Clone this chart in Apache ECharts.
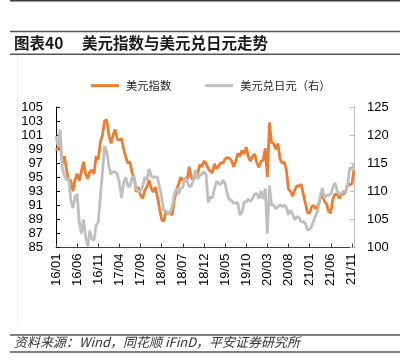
<!DOCTYPE html>
<html><head><meta charset="utf-8">
<script src="https://cdn.jsdelivr.net/npm/echarts@6/dist/echarts.min.js"></script>
<style>html,body{margin:0;padding:0;background:#fff}#c{width:405px;height:360px}</style>
</head><body><div id="c"></div>
<script>
// semi-monthly observations (1st and 16th of each month), 2016-01 .. 2021-11
var startYear = 2016, endYear = 2021, endMonth = 11;
var tickLabels = ['16/01','16/06','16/11','17/04','17/09','18/02','18/07','18/12','19/05','19/10','20/03','20/08','21/01','21/06','21/11'];
var seriesNames = ['美元指数', '美元兑日元（右）'];
var dxy = [
 98.8, 99.2, 99.5, 97.0, 98.0, 96.0, 94.6, 94.6, 93.0, 94.6, 95.5, 94.5, 95.8, 97.2, 95.5, 94.8, 95.8, 96.0, 95.5, 98.0, 97.5, 100.0, 101.0, 103.0,
 103.2, 101.0, 99.8, 101.0, 101.8, 100.4, 100.3, 100.5, 99.0, 97.9, 97.0, 97.2, 95.6, 94.9, 92.9, 93.6, 92.4, 92.0, 93.1, 93.6, 94.6, 93.5, 92.9, 93.6,
 92.2, 90.5, 89.0, 88.7, 90.2, 89.8, 90.0, 89.6, 91.8, 93.2, 94.0, 95.0, 94.6, 94.6, 94.6, 96.5, 95.0, 94.6, 95.3, 95.5, 96.8, 96.5, 97.3, 97.0,
 96.2, 95.9, 95.6, 96.9, 96.2, 96.6, 97.1, 97.0, 97.6, 97.8, 97.7, 97.4, 96.5, 97.2, 98.4, 98.0, 98.8, 98.3, 99.3, 97.9, 97.3, 98.0, 98.3, 97.1,
 96.4, 97.3, 97.4, 99.1, 95.0, 102.8, 99.9, 99.8, 99.0, 99.8, 97.6, 97.0, 97.2, 96.0, 93.3, 93.0, 92.3, 93.2, 93.8, 93.7, 94.0, 92.6, 91.3, 90.0,
 89.9, 90.8, 91.0, 90.5, 91.0, 91.8, 93.0, 91.6, 91.2, 90.1, 89.9, 91.9, 92.6, 92.6, 92.0, 92.6, 92.6, 92.9, 94.1, 93.9, 94.1, 96.0
];
var usdjpy = [
 119.8, 118.0, 121.0, 114.0, 112.8, 112.0, 112.3, 108.5, 107.0, 109.0, 109.5, 104.5, 102.5, 105.0, 102.0, 100.2, 103.0, 101.5, 101.3, 104.0, 104.5, 109.0, 113.5, 118.0,
 117.0, 114.5, 113.0, 113.5, 113.5, 113.0, 111.5, 108.8, 111.5, 112.5, 111.0, 110.8, 112.5, 112.5, 110.5, 110.0, 110.0, 110.8, 112.5, 112.0, 114.0, 112.8, 112.5, 112.5,
 112.5, 110.8, 109.0, 106.5, 106.5, 106.0, 106.3, 107.3, 109.5, 110.5, 109.5, 110.5, 110.7, 112.5, 111.8, 110.8, 111.0, 112.0, 113.8, 112.2, 112.8, 113.0, 113.5, 113.0,
 108.0, 109.0, 108.8, 110.5, 111.8, 111.4, 111.2, 112.0, 111.4, 109.6, 108.5, 108.4, 107.9, 107.9, 108.0, 105.8, 106.2, 108.1, 108.1, 108.6, 108.2, 108.7, 109.5, 109.6,
 108.7, 110.1, 108.6, 110.5, 102.5, 111.0, 107.5, 107.6, 106.9, 107.2, 107.6, 107.3, 107.5, 107.2, 105.8, 106.6, 105.9, 104.9, 105.5, 105.3, 104.6, 104.6, 104.3, 103.1,
 103.2, 103.8, 104.9, 105.8, 106.7, 109.1, 110.6, 108.8, 109.3, 109.3, 109.5, 110.7, 111.5, 110.1, 109.5, 109.6, 110.0, 109.9, 111.1, 114.2, 113.9, 114.8
];
var categories = [];
for (var y = startYear; y <= endYear; y++) {
  for (var m = 1; m <= 12; m++) {
    if (y === endYear && m > endMonth) break;
    var yy = String(y).slice(2), mm = (m < 10 ? '0' : '') + m;
    categories.push(yy + '/' + mm + '/01');
    categories.push(yy + '/' + mm + '/16');
  }
}
var ORANGE = '#ED7D31', GRAY = '#BFBFBF';
var labelFont = {fontFamily: 'Liberation Sans, Arial, sans-serif', fontSize: 13, color: '#000'};
var chart = echarts.init(document.getElementById('c'), null, {renderer: 'canvas'});
chart.setOption({
  animation: false,
  backgroundColor: '#fff',
  grid: {left: 56, top: 107, width: 298, height: 140.5, containLabel: false, outerBoundsMode: 'none'},
  legend: {
    left: 91, top: 80, padding: 0, itemWidth: 28, itemHeight: 3, itemGap: 34, icon: 'rect',
    data: seriesNames,
    textStyle: {fontFamily: 'Noto Sans CJK SC', fontSize: 11.3, color: '#222', padding: [0, 0, 0, 2]}
  },
  xAxis: {
    type: 'category', data: categories, boundaryGap: false,
    axisLine: {lineStyle: {color: '#404040', width: 1}},
    axisTick: {inside: true, length: 4, interval: 9, lineStyle: {color: '#404040'}},
    axisLabel: Object.assign({rotate: 90, interval: 9, margin: 6,
      formatter: function (v, i) { return tickLabels[Math.round(i / 10)] || v.slice(0, 5); }}, labelFont),
    splitLine: {show: false}
  },
  yAxis: [{
    type: 'value', min: 85, max: 105, interval: 2,
    axisLine: {show: true, lineStyle: {color: '#000', width: 1}},
    axisTick: {show: true, inside: true, length: 4, lineStyle: {color: '#000'}},
    axisLabel: Object.assign({margin: 13}, labelFont),
    splitLine: {show: false}
  }, {
    type: 'value', min: 100, max: 125, interval: 5, position: 'right',
    axisLine: {show: true, lineStyle: {color: GRAY, width: 1}},
    axisTick: {show: true, inside: true, length: 4, lineStyle: {color: GRAY}},
    axisLabel: Object.assign({margin: 13}, labelFont),
    splitLine: {show: false}
  }],
  series: [{
    name: seriesNames[0], type: 'line', yAxisIndex: 0, data: dxy, showSymbol: false, symbol: 'none',
    lineStyle: {color: ORANGE, width: 2.8}, itemStyle: {color: ORANGE}, z: 2
  }, {
    name: seriesNames[1], type: 'line', yAxisIndex: 1, data: usdjpy, showSymbol: false, symbol: 'none',
    lineStyle: {color: GRAY, width: 2.8}, itemStyle: {color: GRAY}, z: 3
  }],
  graphic: [
    {type: 'line', shape: {x1: 10, y1: 0.8, x2: 400, y2: 0.8}, style: {stroke: '#3c3c3c', lineWidth: 1.5}},
    {type: 'line', shape: {x1: 10, y1: 31.5, x2: 400, y2: 31.5}, style: {stroke: '#555', lineWidth: 1.4}},
    {type: 'line', shape: {x1: 10, y1: 54.2, x2: 400, y2: 54.2}, style: {stroke: '#555', lineWidth: 1.4}},
    {type: 'line', shape: {x1: 17.5, y1: 56, x2: 17.5, y2: 325}, style: {stroke: '#efefef', lineWidth: 1}},
    {type: 'text', left: 14, top: 35, style: {text: '图表40', font: 'bold 15.5px "Noto Sans CJK SC"', fill: '#1a1a1a'}},
    {type: 'text', left: 82, top: 35, style: {text: '美元指数与美元兑日元走势', font: 'bold 15.5px "Noto Sans CJK SC"', fill: '#1a1a1a'}},
    {type: 'line', shape: {x1: 10, y1: 335, x2: 400, y2: 335}, style: {stroke: '#555', lineWidth: 1.4}},
    {type: 'text', left: 14, top: 335.5, style: {text: '资料来源：Wind，同花顺 iFinD，平安证券研究所', font: 'italic 13px "Noto Sans CJK SC"', fill: '#333'}},
    {type: 'line', shape: {x1: 10, y1: 352, x2: 400, y2: 352}, style: {stroke: '#555', lineWidth: 1.4}}
  ]
});
</script></body></html>
